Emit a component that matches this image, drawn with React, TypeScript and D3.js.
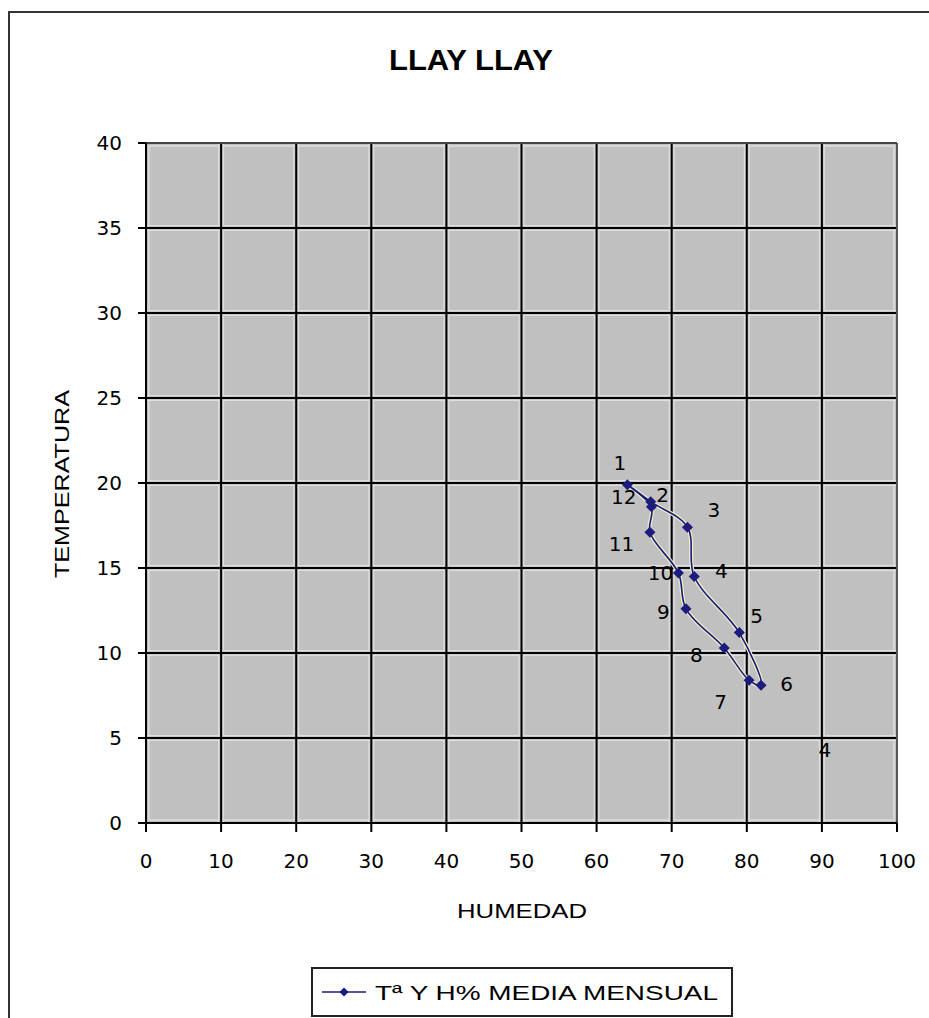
import React from "react";
import * as d3 from "d3";

// Monthly mean humidity (%) and temperature (°C), months 1..12
const months = ["1", "2", "3", "4", "5", "6", "7", "8", "9", "10", "11", "12"];
const humidity = [64.1, 67.2, 72.1, 73.0, 79.0, 81.9, 80.3, 77.0, 71.9, 70.9, 67.1, 67.3];
const temperature = [19.9, 18.9, 17.4, 14.5, 11.2, 8.1, 8.4, 10.3, 12.6, 14.7, 17.1, 18.6];

// Month label anchor positions (data units)
const labelText = ["1", "2", "3", "4", "5", "6", "7", "8", "9", "10", "11", "12", "4"];
const labelX = [63.1, 68.8, 75.6, 76.6, 81.3, 85.3, 76.5, 73.3, 68.9, 68.5, 63.3, 63.6, 90.4];
const labelY = [21.2, 19.3, 18.4, 14.8, 12.2, 8.2, 7.1, 9.9, 12.4, 14.7, 16.4, 19.2, 4.3];

const xTicks = [0, 10, 20, 30, 40, 50, 60, 70, 80, 90, 100];
const yTicks = [0, 5, 10, 15, 20, 25, 30, 35, 40];

const title = "LLAY LLAY";
const xTitle = "HUMEDAD";
const yTitle = "TEMPERATURA";
const legendLabel = "Tª Y H% MEDIA MENSUAL";

const W = 929;
const H = 1018;
const plot = { left: 146, right: 897, top: 143, bottom: 823 };
const navy = "#1c1c7e";
const tickFont = "DejaVu Sans, Verdana, sans-serif";

export default function App() {
  const x = d3.scaleLinear().domain([0, 100]).range([plot.left, plot.right]);
  const y = d3.scaleLinear().domain([0, 40]).range([plot.bottom, plot.top]);

  const pts: [number, number][] = humidity.map((h, i) => [x(h), y(temperature[i])]);
  const line = d3
    .line<[number, number]>()
    .x((d) => d[0])
    .y((d) => d[1])
    .curve(d3.curveCatmullRomClosed.alpha(0.5));
  const pathD = line(pts) || "";

  const diamond = (cx: number, cy: number, r: number) =>
    `M${cx},${cy - r}L${cx + r},${cy}L${cx},${cy + r}L${cx - r},${cy}Z`;

  return (
    <svg
      width={W}
      height={H}
      viewBox={`0 0 ${W} ${H}`}
      style={{ position: "absolute", left: 0, top: 0, display: "block", background: "#fff" }}
    >
      {/* outer chart frame (continues past right/bottom edges) */}
      <rect x={9} y={12} width={W + 20} height={H + 20} fill="#fff" stroke="#333" strokeWidth={2} />

      {/* title */}
      <text
        x={471}
        y={70}
        textAnchor="middle"
        fontFamily="Liberation Sans, Arial, sans-serif"
        fontWeight="bold"
        fontSize={30}
        textLength={164}
        lengthAdjust="spacingAndGlyphs"
        fill="#000"
      >
        {title}
      </text>

      {/* plot area */}
      <rect
        x={plot.left}
        y={plot.top}
        width={plot.right - plot.left}
        height={plot.bottom - plot.top}
        fill="#c0c0c0"
      />

      {/* light halos around grid lines */}
      {xTicks.slice(1, -1).map((t) => (
        <line key={`vh${t}`} x1={x(t)} x2={x(t)} y1={plot.top} y2={plot.bottom} stroke="#dedede" strokeWidth={6} />
      ))}
      {yTicks.slice(1, -1).map((t) => (
        <line key={`hh${t}`} x1={plot.left} x2={plot.right} y1={y(t)} y2={y(t)} stroke="#dedede" strokeWidth={6} />
      ))}
      <rect
        x={plot.left + 3}
        y={plot.top + 3}
        width={plot.right - plot.left - 6}
        height={plot.bottom - plot.top - 6}
        fill="none"
        stroke="#dedede"
        strokeWidth={1.5}
      />
      {xTicks.slice(1, -1).map((t) => (
        <line key={`vg${t}`} x1={x(t)} x2={x(t)} y1={plot.top} y2={plot.bottom} stroke="#c0c0c0" strokeWidth={3.5} />
      ))}
      {yTicks.slice(1, -1).map((t) => (
        <line key={`hg${t}`} x1={plot.left} x2={plot.right} y1={y(t)} y2={y(t)} stroke="#c0c0c0" strokeWidth={3.5} />
      ))}

      {/* grid lines */}
      {xTicks.slice(1, -1).map((t) => (
        <line key={`v${t}`} x1={x(t)} x2={x(t)} y1={plot.top} y2={plot.bottom} stroke="#000" strokeWidth={2} />
      ))}
      {yTicks.slice(1, -1).map((t) => (
        <line key={`h${t}`} x1={plot.left} x2={plot.right} y1={y(t)} y2={y(t)} stroke="#000" strokeWidth={2} />
      ))}
      {/* plot border top/right */}
      <line x1={plot.left} x2={plot.right} y1={plot.top} y2={plot.top} stroke="#444" strokeWidth={2} />
      <line x1={plot.right} x2={plot.right} y1={plot.top} y2={plot.bottom} stroke="#555" strokeWidth={2} />

      {/* axes */}
      <line x1={plot.left} x2={plot.left} y1={plot.top} y2={plot.bottom} stroke="#000" strokeWidth={2} />
      <line x1={plot.left} x2={plot.right} y1={plot.bottom} y2={plot.bottom} stroke="#000" strokeWidth={2} />

      {/* y ticks */}
      {yTicks.map((t) => (
        <g key={`yt${t}`}>
          <line x1={plot.left - 8} x2={plot.left} y1={y(t)} y2={y(t)} stroke="#000" strokeWidth={2} />
          <text
            x={plot.left - 24}
            y={y(t)}
            textAnchor="end"
            dominantBaseline="central"
            fontFamily={tickFont}
            fontSize={20}
            fill="#000"
          >
            {t}
          </text>
        </g>
      ))}

      {/* x ticks */}
      {xTicks.map((t) => (
        <g key={`xt${t}`}>
          <line x1={x(t)} x2={x(t)} y1={plot.bottom} y2={plot.bottom + 9} stroke="#000" strokeWidth={2} />
          <text
            x={x(t)}
            y={plot.bottom + 38}
            textAnchor="middle"
            dominantBaseline="central"
            fontFamily={tickFont}
            fontSize={20}
            fill="#000"
          >
            {t}
          </text>
        </g>
      ))}

      {/* axis titles */}
      <text
        x={522}
        y={911}
        textAnchor="middle"
        dominantBaseline="central"
        fontFamily="Liberation Sans, Arial, sans-serif"
        fontSize={20}
        textLength={130}
        lengthAdjust="spacingAndGlyphs"
        fill="#000"
      >
        {xTitle}
      </text>
      <text
        transform={`translate(62,484) rotate(-90)`}
        textAnchor="middle"
        dominantBaseline="central"
        fontFamily="Liberation Sans, Arial, sans-serif"
        fontSize={20}
        textLength={188}
        lengthAdjust="spacingAndGlyphs"
        fill="#000"
      >
        {yTitle}
      </text>

      {/* series line with light halo */}
      <path d={pathD} fill="none" stroke="#eeeec8" strokeWidth={4} strokeLinejoin="round" />
      <path d={pathD} fill="none" stroke={navy} strokeWidth={1.6} strokeLinejoin="round" />
      {pts.map((p, i) => (
        <path key={`m${i}`} d={diamond(p[0], p[1], 5.5)} fill={navy} />
      ))}

      {/* month labels */}
      {labelText.map((t, i) => (
        <text
          key={`l${i}`}
          x={x(labelX[i])}
          y={y(labelY[i])}
          textAnchor="middle"
          dominantBaseline="central"
          fontFamily={tickFont}
          fontSize={20}
          fill="#000"
        >
          {t}
        </text>
      ))}

      {/* legend */}
      <rect x={312} y={968} width={420} height={48} fill="#fff" stroke="#222" strokeWidth={2} />
      <line x1={322} x2={366} y1={992} y2={992} stroke={navy} strokeWidth={1.6} />
      <path d={diamond(344, 992, 4.5)} fill={navy} />
      <text
        x={375}
        y={992}
        dominantBaseline="central"
        fontFamily="Liberation Sans, Arial, sans-serif"
        fontSize={21}
        textLength={343}
        lengthAdjust="spacingAndGlyphs"
        fill="#000"
      >
        {legendLabel}
      </text>
    </svg>
  );
}
